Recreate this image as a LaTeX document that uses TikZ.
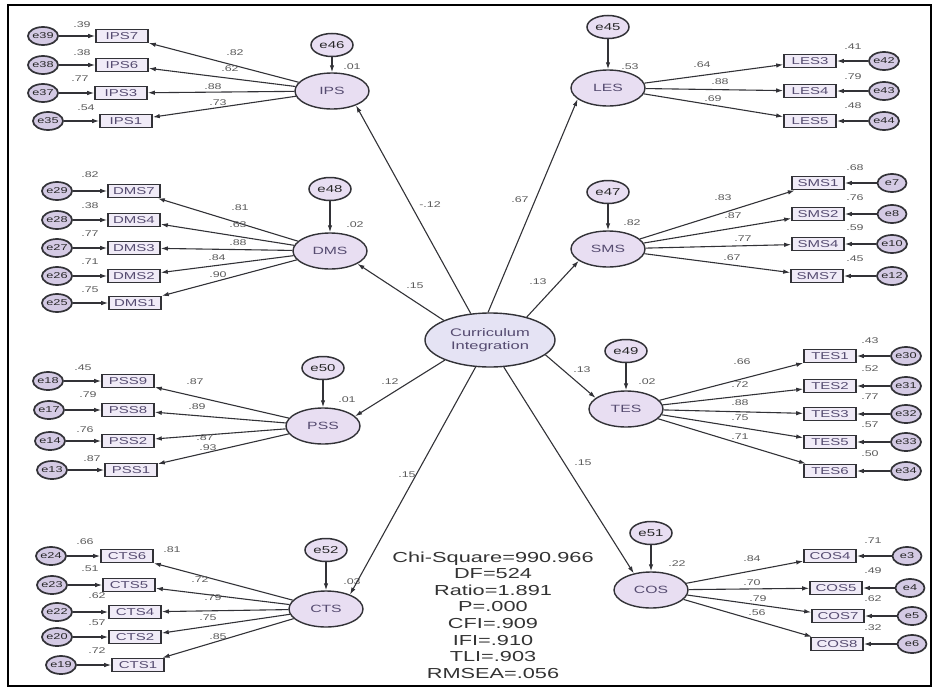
\documentclass[tikz,border=0pt]{standalone}
\usepackage{fontspec}
\setmainfont{Liberation Sans}[FakeStretch=1.5]
\usetikzlibrary{arrows.meta,shapes.geometric}
\definecolor{lav}{RGB}{232,222,242}
\definecolor{lavci}{RGB}{229,227,244}
\definecolor{lavbox}{RGB}{240,235,247}
\definecolor{lave}{RGB}{212,202,228}
\definecolor{ln}{RGB}{50,50,55}
\definecolor{tx}{RGB}{85,75,112}
\definecolor{nm}{RGB}{90,90,90}
\begin{document}
\begin{tikzpicture}[x=1pt,y=-1pt,
  lat/.style={ellipse, draw=ln, line width=1.4pt, fill=lav, minimum width=74pt, minimum height=36pt, inner sep=0pt, font=\fontsize{10.5}{12}\selectfont, text=tx},
  ind/.style={rectangle, draw=ln, line width=1.6pt, fill=lavbox, minimum width=52pt, minimum height=13pt, inner sep=0pt, font=\fontsize{10}{11}\selectfont, text=tx},
  err/.style={ellipse, draw=ln, line width=1.7pt, fill=lave, minimum width=29pt, minimum height=18pt, inner sep=0pt, font=\fontsize{8.5}{9}\selectfont, text=black!85},
  dis/.style={ellipse, draw=ln, line width=1.5pt, fill=lav, minimum width=42pt, minimum height=23pt, inner sep=0pt, font=\fontsize{10}{11}\selectfont, text=black!85},
  num/.style={font=\fontsize{8.3}{9}\selectfont, text=nm, inner sep=0pt},
  arr/.style={draw=ln, line width=1.1pt, -{Latex[length=7pt,width=4.5pt]}},
]
\useasboundingbox (0,0) rectangle (937,688);
\draw[line width=2.5pt] (8,5) rectangle (931,686);

% latent variables
\node[lat] (IPS) at (332,91) {IPS};
\node[lat] (DMS) at (330,251) {DMS};
\node[lat] (PSS) at (323,426) {PSS};
\node[lat] (CTS) at (326,609) {CTS};
\node[lat] (LES) at (608,88) {LES};
\node[lat] (SMS) at (608,249) {SMS};
\node[lat] (TES) at (626,409) {TES};
\node[lat] (COS) at (651,590) {COS};
\node[lat, fill=lavci, minimum width=130pt, minimum height=54pt, align=center, font=\fontsize{11}{13}\selectfont] (CI) at (490,340) {Curriculum\\Integration};

% disturbances
\foreach \dn/\lt/\dx/\dy/\sq/\sx/\sy in {e46/IPS/332/45/.01/352/67, e48/DMS/330/189/.02/355/225, e50/PSS/323/368/.01/347/400, e52/CTS/326/550/.03/352/582, e45/LES/608/27/.53/630/67, e47/SMS/608/192/.82/632/223, e49/TES/626/351/.02/647/382, e51/COS/651/533/.22/677/564}{
  \node[dis] (\dn) at (\dx,\dy) {\dn};
  \draw[arr] (\dn) -- (\lt);
  \node[num] at (\sx,\sy) {\sq};
}

% indicators
\foreach \lt/\nm/\y/\bx/\ex/\et/\sq/\sx/\sy/\ld/\lx/\ly in {
 IPS/IPS7/36/122/43/e39/.39/82/25/.82/235/53,
 IPS/IPS6/65/122/43/e38/.38/82/53/.62/230/69,
 IPS/IPS3/93/121/43/e37/.77/80/79/.88/213/87,
 IPS/IPS1/121/126/48/e35/.54/86/108/.73/218/103,
 DMS/DMS7/191/134/57/e29/.82/90/175/.81/240/208,
 DMS/DMS4/220/134/57/e28/.38/90/206/.63/238/225,
 DMS/DMS3/248/134/57/e27/.77/90/234/.88/238/243,
 DMS/DMS2/276/134/57/e26/.71/90/262/.84/217/258,
 DMS/DMS1/303/135/57/e25/.75/90/290/.90/218/275,
 PSS/PSS9/381/128/48/e18/.45/83/368/.87/195/382,
 PSS/PSS8/410/128/49/e17/.79/88/395/.89/197/407,
 PSS/PSS2/441/128/50/e14/.76/85/430/.87/205/438,
 PSS/PSS1/470/131/52/e13/.87/92/459/.93/208/448,
 CTS/CTS6/556/127/51/e24/.66/85/542/.81/172/550,
 CTS/CTS5/585/129/52/e23/.51/90/569/.72/200/580,
 CTS/CTS4/612/135/57/e22/.62/97/596/.79/213/598,
 CTS/CTS2/637/135/57/e20/.57/97/623/.75/208/618,
 CTS/CTS1/665/138/61/e19/.72/97/651/.85/218/637,
 LES/LES3/61/810/884/e42/.41/853/47/.64/702/65,
 LES/LES4/91/810/884/e43/.79/853/77/.88/720/82,
 LES/LES5/121/810/884/e44/.48/853/106/.69/713/99,
 SMS/SMS1/183/818/892/e7/.68/855/168/.83/723/198,
 SMS/SMS2/214/818/892/e8/.76/855/198/.87/733/216,
 SMS/SMS4/244/818/892/e10/.59/855/228/.77/743/239,
 SMS/SMS7/276/817/892/e12/.45/855/259/.67/732/258,
 TES/TES1/356/830/906/e30/.43/870/341/.66/742/362,
 TES/TES2/386/830/906/e31/.52/870/369/.72/740/385,
 TES/TES3/414/830/906/e32/.77/870/397/.88/740/403,
 TES/TES5/442/830/906/e33/.57/870/425/.75/740/418,
 TES/TES6/471/830/906/e34/.50/870/454/.71/740/437,
 COS/COS4/556/830/907/e3/.71/873/541/.84/752/559,
 COS/COS5/588/836/910/e4/.49/873/571/.70/752/583,
 COS/COS7/616/838/912/e5/.62/873/599/.79/758/599,
 COS/COS8/644/837/912/e6/.32/873/628/.56/757/613}{
  \node[ind] (\nm) at (\bx,\y) {\nm};
  \node[err] (e\nm) at (\ex,\y) {\et};
  \draw[arr] (e\nm) -- (\nm);
  \draw[arr] (\lt) -- (\nm);
  \node[num] at (\sx,\sy) {\sq};
  \node[num] at (\lx,\ly) {\ld};
}

% structural paths
\draw[arr] (CI.126) -- (IPS.329);
\draw[arr] (CI.94) -- (LES.200);
\draw[arr] (CI.157) -- (DMS.335);
\draw[arr] (CI.32) -- (SMS.202);
\draw[arr] (CI.204) -- (PSS.17);
\draw[arr] (CI.345) -- (TES.160);
\draw[arr] (CI.242) -- (CTS.31);
\draw[arr] (CI.297) -- (COS.136);
\node[num] at (430,205) {-.12};
\node[num] at (520,200) {.67};
\node[num] at (415,286) {.15};
\node[num] at (538,282) {.13};
\node[num] at (390,382) {.12};
\node[num] at (582,370) {.13};
\node[num] at (407,475) {.15};
\node[num] at (583,463) {.15};

% fit statistics
\node[align=center, inner sep=0pt, text=black!80, font=\fontsize{14.5}{16.6}\selectfont] (fit) at (493,615) {Chi-Square=990.966\\DF=524\\Ratio=1.891\\P=.000\\CFI=.909\\IFI=.910\\TLI=.903\\RMSEA=.056};
\end{tikzpicture}
\end{document}
